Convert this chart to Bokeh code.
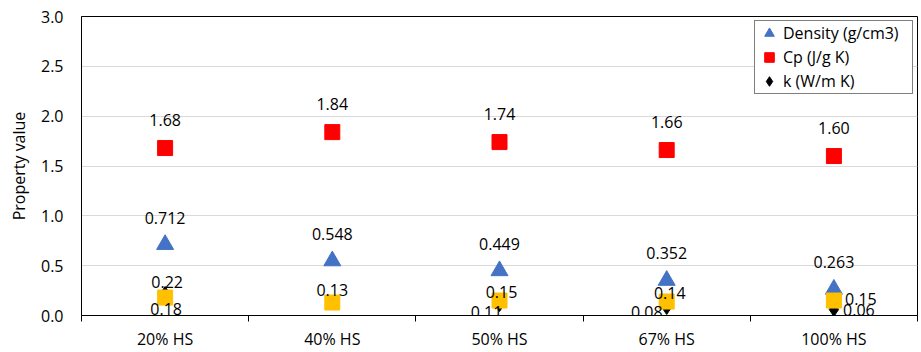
from bokeh.plotting import figure
from bokeh.models import (ColumnDataSource, FixedTicker, Legend, LegendItem,
                          Range1d, NumeralTickFormatter)
from bokeh.core.properties import value
from bokeh.embed import file_html
from bokeh.resources import INLINE

# --- data -------------------------------------------------------------
categories = ["20% HS", "40% HS", "50% HS", "67% HS", "100% HS"]
density = [0.712, 0.548, 0.449, 0.352, 0.263]      # g/cm3
cp = [1.68, 1.84, 1.74, 1.66, 1.60]                # J/g K
k = [0.22, 0.13, 0.11, 0.08, 0.06]                 # W/m K
k_alt = [0.18, 0.13, 0.15, 0.14, 0.15]             # second k series (no legend entry)
k_alt_show = [True, False, True, True, True]       # which of its labels are shown

y_ticks = [0.0, 0.5, 1.0, 1.5, 2.0, 2.5, 3.0]

# label nudges in screen pixels (dx, dy; dy > 0 is downward)
k_dx = [2, 0, -13, -20, 25]
k_dy = [-12, -13, 7, 4, 0]
alt_dx = [1, 0, 2, 3, 27]
alt_dy = [11, 0, -9, -9, -2]

FONT = value("Open Sans")
BLUE, RED, YELLOW = "#4472C4", "#FF0000", "#FFC000"

xs = [i + 0.5 for i in range(len(categories))]

src = ColumnDataSource(dict(
    x=xs,
    density=density, cp=cp, k=k, k_alt=k_alt,
    density_lbl=[f"{v:.3f}" for v in density],
    cp_lbl=[f"{v:.2f}" for v in cp],
    k_lbl=[f"{v:.2f}" for v in k],
    alt_lbl=[f"{v:.2f}" if s else "" for v, s in zip(k_alt, k_alt_show)],
    k_dx=k_dx, k_dy=k_dy, alt_dx=alt_dx, alt_dy=alt_dy,
))

p = figure(width=921, height=352, output_backend="svg", toolbar_location=None,
           x_range=Range1d(0, len(categories)), y_range=Range1d(0, 3),
           min_border_left=81, min_border_right=4, min_border_top=16,
           min_border_bottom=36)

p.outline_line_color = "black"
p.outline_line_width = 1
p.xgrid.grid_line_color = None
p.ygrid.grid_line_color = "#d9d9d9"
p.ygrid.ticker = FixedTicker(ticks=y_ticks)

# x axis: category names centred, tick marks on category boundaries
xa = p.xaxis[0]
xa.ticker = FixedTicker(ticks=xs, minor_ticks=list(range(len(categories) + 1)))
xa.major_label_overrides = {x: c for x, c in zip(xs, categories)}
xa.major_tick_line_color = None
xa.major_tick_out = 0
xa.minor_tick_line_color = "black"
xa.minor_tick_out = 6
xa.minor_tick_in = 0
xa.axis_line_color = "black"
xa.major_label_standoff = 6
xa.major_label_text_font = "Open Sans"
xa.major_label_text_font_size = "16px"
xa.major_label_text_color = "#000000"

ya = p.yaxis[0]
ya.ticker = FixedTicker(ticks=y_ticks)
ya.formatter = NumeralTickFormatter(format="0.0")
ya.major_tick_line_color = None
ya.minor_tick_line_color = None
ya.major_tick_out = 0
ya.axis_line_color = "black"
ya.major_label_standoff = 18
ya.major_label_text_font = "Open Sans"
ya.major_label_text_font_size = "16px"
ya.major_label_text_color = "#000000"
ya.axis_label = "Property value"
ya.axis_label_text_font = "Open Sans"
ya.axis_label_text_font_size = "16px"
ya.axis_label_text_font_style = "normal"
ya.axis_label_text_color = "#000000"
ya.axis_label_standoff = 8

# markers
r_den = p.scatter("x", "density", source=src, marker="triangle", size=17,
                  fill_color=BLUE, line_color=BLUE)
r_cp = p.scatter("x", "cp", source=src, marker="square", size=15,
                 fill_color=RED, line_color=RED)
r_k = p.scatter("x", "k", source=src, marker="diamond", size=14,
                fill_color="black", line_color="black")
p.scatter("x", "k_alt", source=src, marker="square", size=15,
          fill_color=YELLOW, line_color=YELLOW)

# data labels
txt = dict(source=src, text_font=FONT, text_font_size="16px",
           text_color="black", text_align="center", text_baseline="middle")
p.text("x", "density", text="density_lbl", y_offset=-27, **txt)
p.text("x", "cp", text="cp_lbl", y_offset=-28, **txt)
p.text("x", "k", text="k_lbl", x_offset="k_dx", y_offset="k_dy", **txt)
p.text("x", "k_alt", text="alt_lbl", x_offset="alt_dx", y_offset="alt_dy", **txt)

legend = Legend(items=[
    LegendItem(label="Density (g/cm3)", renderers=[r_den]),
    LegendItem(label="Cp (J/g K)", renderers=[r_cp]),
    LegendItem(label="k (W/m K)", renderers=[r_k]),
], location="top_right")
legend.glyph_width = 28
legend.glyph_height = 24
legend.label_height = 20
legend.label_width = 129
legend.spacing = 0
legend.padding = 0
legend.margin = 4
legend.label_standoff = 0
legend.label_text_font = "Open Sans"
legend.label_text_font_size = "16px"
legend.label_text_color = "black"
legend.border_line_color = "black"
legend.border_line_width = 1
legend.background_fill_color = "white"
legend.background_fill_alpha = 1
p.add_layout(legend)

open("out.html", "w").write(file_html(p, INLINE))
